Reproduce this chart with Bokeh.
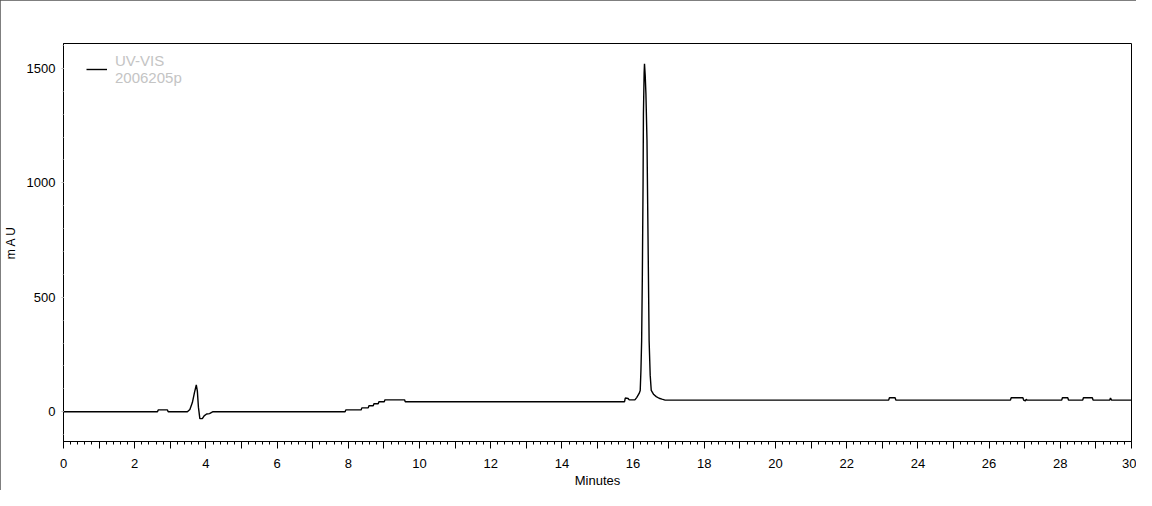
from bokeh.plotting import figure
from bokeh.models import FixedTicker, Range1d, Legend, LegendItem
from bokeh.embed import file_html
from bokeh.resources import INLINE

# Chromatogram trace (minutes, mAU)
time_min = [0.00, 2.64, 2.66, 2.92, 2.94,
            3.48, 3.55, 3.62, 3.68, 3.73, 3.76, 3.79, 3.83, 3.90, 3.95, 4.02, 4.10, 4.20,
            7.91, 7.93, 8.36, 8.38, 8.56, 8.58, 8.70, 8.72, 8.84, 8.86, 9.01, 9.03, 9.58, 9.60,
            15.76, 15.78, 15.86, 15.89, 16.05, 16.10, 16.17, 16.20, 16.22, 16.24, 16.26, 16.28,
            16.29, 16.31, 16.32, 16.34, 16.36, 16.39, 16.42, 16.45, 16.48, 16.51, 16.58, 16.65,
            16.73, 16.81, 16.90,
            23.18, 23.20, 23.36, 23.38,
            26.60, 26.62, 26.95, 26.97, 27.02, 27.04, 27.07,
            28.04, 28.06, 28.21, 28.23,
            28.63, 28.65, 28.90, 28.92,
            29.39, 29.41, 29.44, 30.00]
mau = [0, 0, 8, 8, 0,
       0, 10, 40, 85, 117, 90, 20, -30, -30, -18, -10, -8, 0,
       0, 8, 8, 17, 17, 26, 26, 35, 35, 44, 44, 52, 52, 44,
       44, 60, 58, 52, 52, 62, 80, 93, 180, 310, 600, 1000,
       1300, 1480, 1520, 1470, 1390, 1186, 750, 310, 160, 93, 75, 66,
       59, 55, 51,
       51, 61, 61, 51,
       51, 61, 61, 51, 47, 54, 51,
       51, 61, 61, 51,
       51, 61, 61, 51,
       51, 60, 51, 51]

x_major = list(range(0, 31))
x_minor = [round(i * 0.2, 1) for i in range(151)]
y_major = [0, 500, 1000, 1500]
y_minor = list(range(-100, 1601, 100))
legend_label = "UV-VIS\n2006205p"

FONT = "Liberation Sans"

p = figure(width=1136, height=490, output_backend="svg", toolbar_location=None,
           x_range=Range1d(0, 30), y_range=Range1d(-130, 1609),
           min_border_left=63, min_border_right=5, min_border_top=43, min_border_bottom=49)
p.styles = {"outline": "1px solid #555555", "outline-offset": "-1px"}

p.background_fill_color = "white"
p.border_fill_color = "white"
p.outline_line_color = "black"
p.outline_line_width = 1
p.xgrid.visible = False
p.ygrid.visible = False

r = p.line(time_min, mau, line_color="black", line_width=1.4)

# X axis
xa = p.xaxis[0]
xa.ticker = FixedTicker(ticks=x_major, minor_ticks=x_minor)
xa.major_label_overrides = {t: ("" if t % 2 else str(t)) for t in x_major}
xa.major_tick_out = 7
xa.major_tick_in = 0
xa.minor_tick_out = 3
xa.minor_tick_in = 0
xa.major_tick_line_color = "black"
xa.minor_tick_line_color = "black"
xa.axis_line_color = "black"
xa.major_label_standoff = 10
xa.major_label_text_font = FONT
xa.major_label_text_font_size = "13px"
xa.major_label_text_color = "black"
xa.axis_label = "Minutes"
xa.axis_label_text_font = FONT
xa.axis_label_text_font_size = "13px"
xa.axis_label_text_font_style = "normal"
xa.axis_label_text_color = "black"
xa.axis_label_standoff = 2

# Y axis
ya = p.yaxis[0]
ya.ticker = FixedTicker(ticks=y_major, minor_ticks=y_minor)
ya.major_tick_out = 2
ya.major_tick_in = 0
ya.minor_tick_out = 1
ya.minor_tick_in = 0
ya.major_tick_line_color = "#bbbbbb"
ya.minor_tick_line_color = "#cccccc"
ya.axis_line_color = "black"
ya.major_label_standoff = 6
ya.major_label_text_font = FONT
ya.major_label_text_font_size = "13px"
ya.major_label_text_color = "black"
ya.axis_label = "m A U"
ya.axis_label_text_font = FONT
ya.axis_label_text_font_size = "12px"
ya.axis_label_text_font_style = "normal"
ya.axis_label_text_color = "black"
ya.axis_label_standoff = 6

legend = Legend(items=[LegendItem(label=legend_label, renderers=[r])],
                location=(23, 355), padding=0, margin=0, spacing=0,
                glyph_width=21, label_standoff=8,
                label_text_font=FONT, label_text_font_size="15px",
                label_text_color="#c4c4c4", label_text_line_height=1.45,
                background_fill_alpha=0, border_line_alpha=0)
p.add_layout(legend)

open("out.html", "w").write(file_html(p, INLINE))
